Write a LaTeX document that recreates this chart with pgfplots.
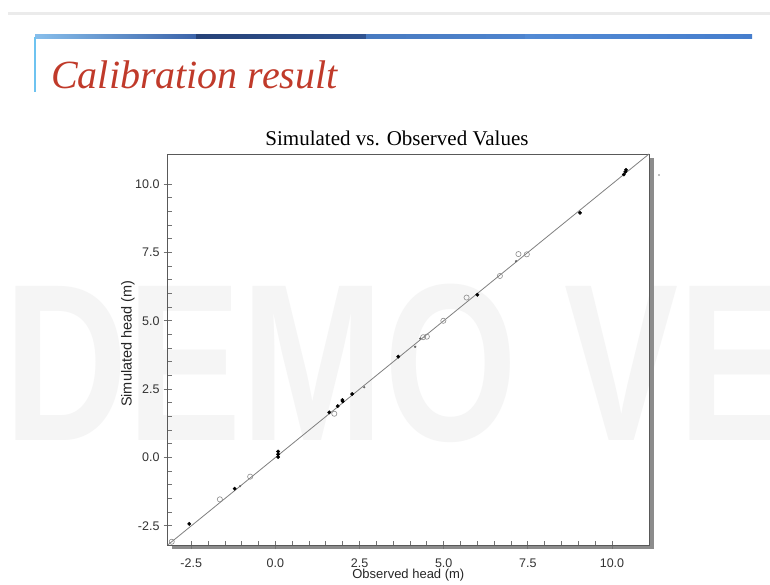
\documentclass[border=0pt]{standalone}
\usepackage{fontspec}
\setmainfont{Liberation Sans}
\newfontfamily\seriffont{Liberation Serif}
\usepackage{pgfplots}
\pgfplotsset{compat=1.18}
\definecolor{titlered}{RGB}{192,58,42}
\definecolor{bA}{RGB}{135,190,235}
\definecolor{bB}{RGB}{60,100,170}
\definecolor{bC}{RGB}{38,66,120}
\definecolor{bD}{RGB}{48,84,145}
\definecolor{bE}{RGB}{72,122,192}
\definecolor{bF}{RGB}{78,132,206}
\definecolor{bG}{RGB}{82,138,212}
\definecolor{bH}{RGB}{70,126,205}
\definecolor{vline}{RGB}{110,195,240}
\begin{document}
\begin{tikzpicture}[x=1pt,y=1pt]
\useasboundingbox (0,0) rectangle (770,584);
\clip (0,0) rectangle (770,584);
\fill[white] (0,0) rectangle (770,584);
% top grey rule
\fill[black!8] (8,569) rectangle (770,572);
% blue bar
\shade[left color=bA, right color=bB] (35,545) rectangle (196,549);
\shade[left color=bC, right color=bD] (196,545) rectangle (366,549);
\shade[left color=bE, right color=bF] (366,545) rectangle (525,549);
\shade[left color=bG, right color=bH] (525,545) rectangle (752,549);
\fill[vline] (34.2,492) rectangle (36.4,547);
% slide title
\node[font=\seriffont\itshape\fontsize{40}{45}\selectfont, text=titlered, anchor=base west, inner sep=0pt] at (51,495) {Calibration result};
% watermark
\node[font=\bfseries\fontsize{171}{171}\selectfont, text=black!4, anchor=base west, inner sep=0pt, yscale=1.31] at (4,144) {DEMO VER};
% shadow of the plot frame
\fill[black!45] (649,35) rectangle (653.5,426);
\fill[black!45] (171.7,35) rectangle (653.5,39);
\fill[black!50] (659,409) circle (0.8);
\begin{axis}[
  at={(167.7pt,39pt)}, anchor=south west,
  scale only axis, width=481.3pt, height=391pt,
  xmin=-3.2, xmax=11.1, ymin=-3.2, ymax=11.1,
  xtick={-2.5,0,2.5,5,7.5,10}, ytick={-2.5,0,2.5,5,7.5,10},
  minor x tick num=4, minor y tick num=4,
  tick pos=left,
  tick align=inside,
  major tick length=8pt, minor tick length=4.5pt,
  major x tick style={yshift=-4pt}, major y tick style={xshift=-4pt},
  axis line style={black!65, line width=0.9pt},
  tick style={black!55, line width=0.8pt},
  /pgf/number format/fixed, /pgf/number format/fixed zerofill,
  /pgf/number format/precision=1, /pgf/number format/assume math mode=true,
  xticklabel style={font=\fontsize{12.5}{14}\selectfont, text=black!80, anchor=base, yshift=-22pt, inner sep=0pt},
  yticklabel style={font=\fontsize{12.5}{14}\selectfont, text=black!80, anchor=east, xshift=-8pt, inner sep=0pt},
  xlabel={Observed head (m)}, ylabel={Simulated head (m)},
  xlabel style={at={(axis description cs:0.5,0)}, anchor=base, yshift=-33pt, inner sep=0pt, font=\fontsize{13}{15}\selectfont, text=black!85},
  ylabel style={at={(axis description cs:-0.0825,0.515)}, anchor=center, inner sep=0pt, font=\fontsize{14.5}{16}\selectfont, text=black!85},
]
\addplot[black!50, line width=0.8pt] coordinates {(-3.2,-3.2) (11.1,11.1)};
\addplot[only marks, mark=o, mark size=2.6pt, black!45, mark options={line width=0.6pt}] coordinates {
(-3.08,-3.08) (-1.65,-1.53) (-0.75,-0.70) (1.75,1.60) (4.39,4.40) (4.50,4.42)
(4.99,5.00) (5.68,5.85) (6.67,6.64) (7.22,7.44) (7.47,7.43)};
\addplot[only marks, mark=*, mark size=0.9pt, black!60] coordinates {
(-1.05,-1.05) (2.64,2.57) (4.15,4.05) (7.15,7.18) (4.30,4.35)};
\addplot[only marks, mark=*, mark size=1.7pt, black] coordinates {
(-2.56,-2.43) (-1.21,-1.14) (0.08,0.22) (0.08,0.12) (0.08,0.02)
(1.60,1.65) (1.85,1.88) (1.99,2.10) (2.00,2.05) (2.28,2.32)
(3.65,3.69) (6.00,5.95) (9.05,8.95) (10.35,10.35) (10.40,10.45) (10.42,10.52)};
\end{axis}
\node[font=\seriffont\fontsize{21}{24}\selectfont, anchor=base] at (397,438) {Simulated vs. Observed Values};
\end{tikzpicture}
\end{document}
